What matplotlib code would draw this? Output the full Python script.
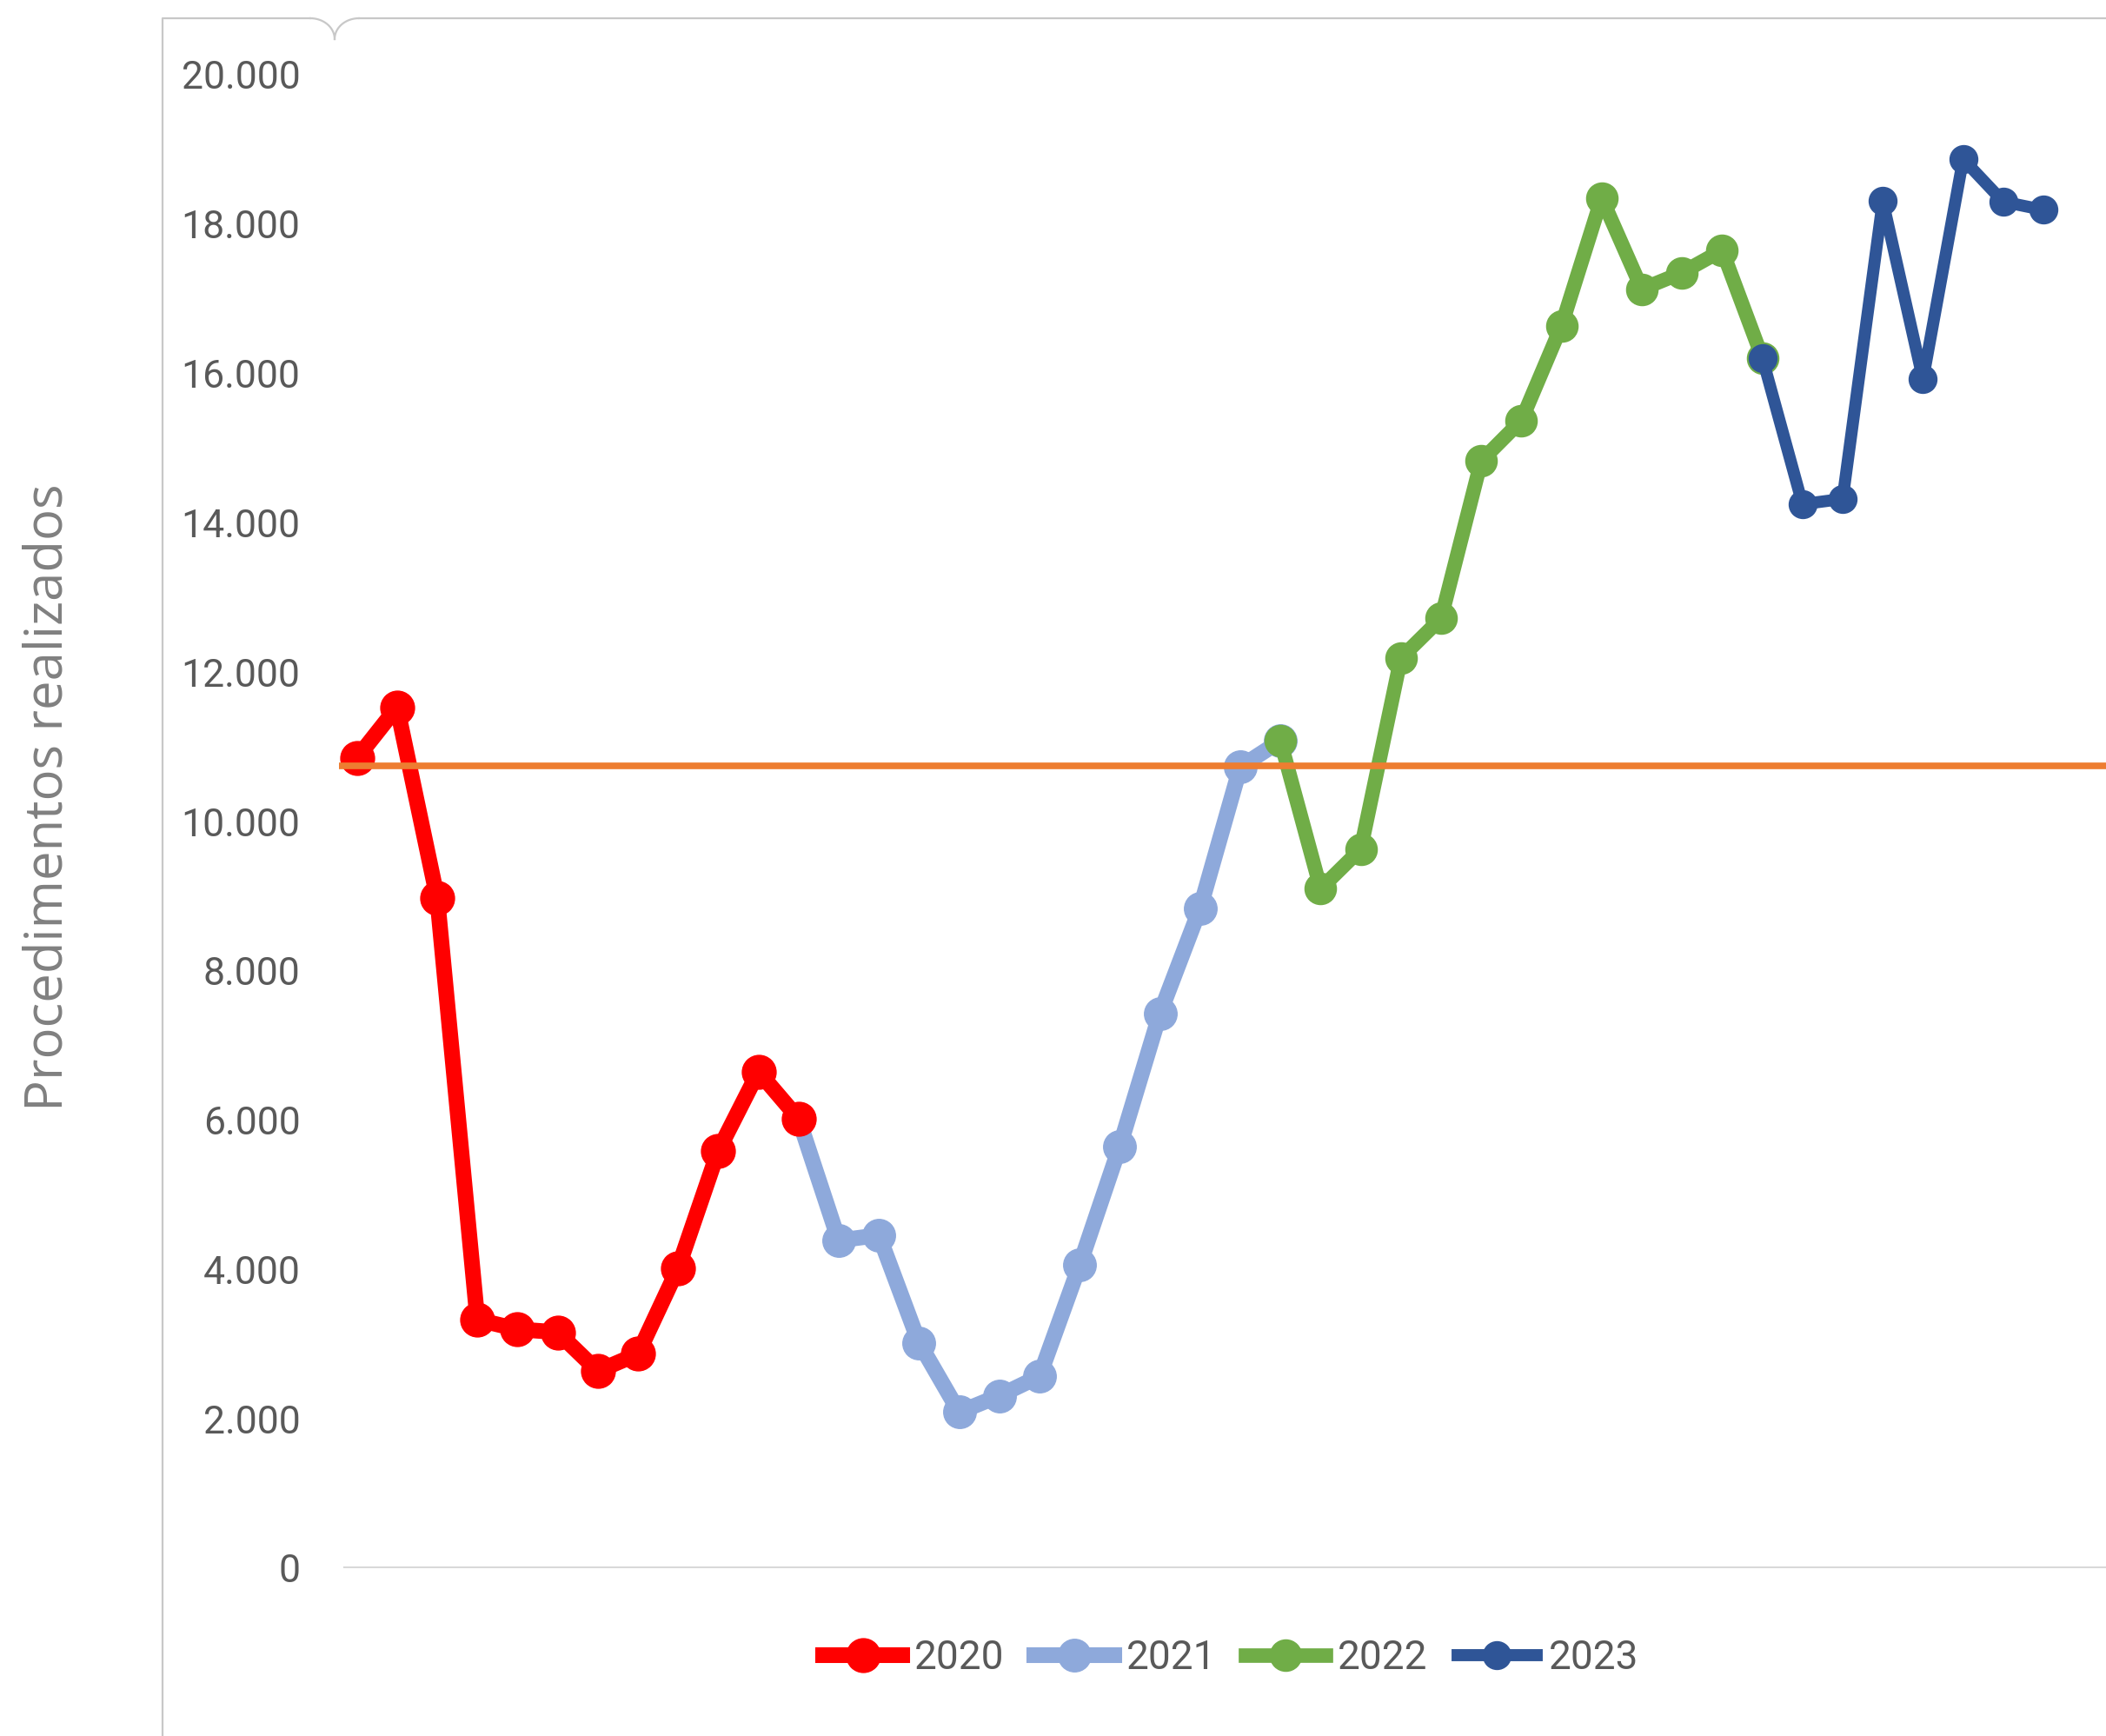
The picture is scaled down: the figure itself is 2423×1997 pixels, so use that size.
import numpy as np
import matplotlib
matplotlib.use('Agg')
import matplotlib.pyplot as plt
from matplotlib.lines import Line2D
from matplotlib.ticker import FuncFormatter

# monthly procedures, Jan 2020 .. Jul 2023
v2020 = [10850, 11530, 8980, 3330, 3200, 3160, 2640, 2870, 4020, 5590, 6650, 6020]
v2021 = [4390, 4460, 3020, 2090, 2310, 2570, 4060, 5650, 7430, 8840, 10730, 11080]
v2022 = [9100, 9630, 12190, 12720, 14830, 15370, 16640, 18350, 17130, 17350, 17650, 16210]
v2023 = [14250, 14320, 18310, 15920, 18870, 18300, 18190]
years = ['2020', '2021', '2022', '2023']
ref_level = 10740

colors = ['#FF0000', '#8EA9DB', '#70AD47', '#2F5597']
widths = [13, 13, 12, 10]
msizes = [28, 27, 26, 23]
zorders = [5, 2, 3, 4]

W, H = 2423, 1997
fig = plt.figure(figsize=(W / 100, H / 100), dpi=100)
ax = fig.add_axes([390 / W, 1 - 1804 / H, 1 - 390 / W, (1804 - 86) / H])

series = [v2020, v2021, v2022, v2023]
start = 0
prev_last = None
handles = []
for i, vals in enumerate(series):
    x = list(range(start, start + len(vals)))
    y = list(vals)
    if prev_last is not None:
        # join to last month of the year before
        x = [start - 1] + x
        y = [prev_last] + y
    ax.plot(x, y, color=colors[i], lw=widths[i], marker='o', ms=msizes[i],
            solid_capstyle='round', solid_joinstyle='round', zorder=zorders[i])
    handles.append(Line2D([], [], color=colors[i], lw=widths[i], marker='o', ms=msizes[i]))
    prev_last = vals[-1]
    start += len(vals)

ax.axhline(ref_level, color='#ED7D31', lw=5.5, zorder=6)
ax.axhline(0, color='#D9D9D9', lw=3, zorder=1, xmin=(397 - 390) / (W - 390))

ax.set_xlim((390 - 410.6) / 46.2, (W - 410.6) / 46.2)
ax.set_ylim(0, 20000)
ax.set_yticks(range(0, 20001, 2000))
ax.yaxis.set_major_formatter(FuncFormatter(lambda v, p: f"{int(v):,}".replace(',', '.')))
ax.set_xticks([])
ax.tick_params(axis='y', length=0, pad=32, labelsize=32, labelcolor='#595959')
for lab in ax.get_yticklabels():
    lab.set_family(['Roboto', 'DejaVu Sans'])
for s in ax.spines.values():
    s.set_visible(False)
ax.patch.set_alpha(0)

# outer chart frame with the little notch at the top
def px(xs, ys):
    return np.asarray(xs) / W, 1 - np.asarray(ys) / H

t = np.linspace(0, np.pi / 2, 20)
lx = 357 + 28 * np.sin(t)
ly = 21 + 24 * (1 - np.cos(t))
rx = 413 - 28 * np.sin(t)
frame_col = '#C8C8C8'
for xs, ys in [([187, 187, 357], [H, 21, 21]), (lx, ly), (rx, ly), ([413, W], [21, 21])]:
    fx, fy = px(xs, ys)
    fig.add_artist(Line2D(fx, fy, color=frame_col, lw=1.6, transform=fig.transFigure))

fig.text(56 / W, 1 - 917 / H, 'Procedimentos realizados', rotation=90, ha='center', va='center',
         fontsize=43, color='#808080', family=['Open Sans', 'DejaVu Sans'])

fig.legend(handles, years, loc='center', bbox_to_anchor=(1416 / W, 1 - 1907 / H), ncol=4,
           frameon=False, numpoints=1, handlelength=2.0, handletextpad=0.3, columnspacing=0.75,
           labelcolor='#595959', prop={'family': ['Roboto', 'DejaVu Sans'], 'size': 33})

fig.savefig('out.png', dpi=100, facecolor='white')
